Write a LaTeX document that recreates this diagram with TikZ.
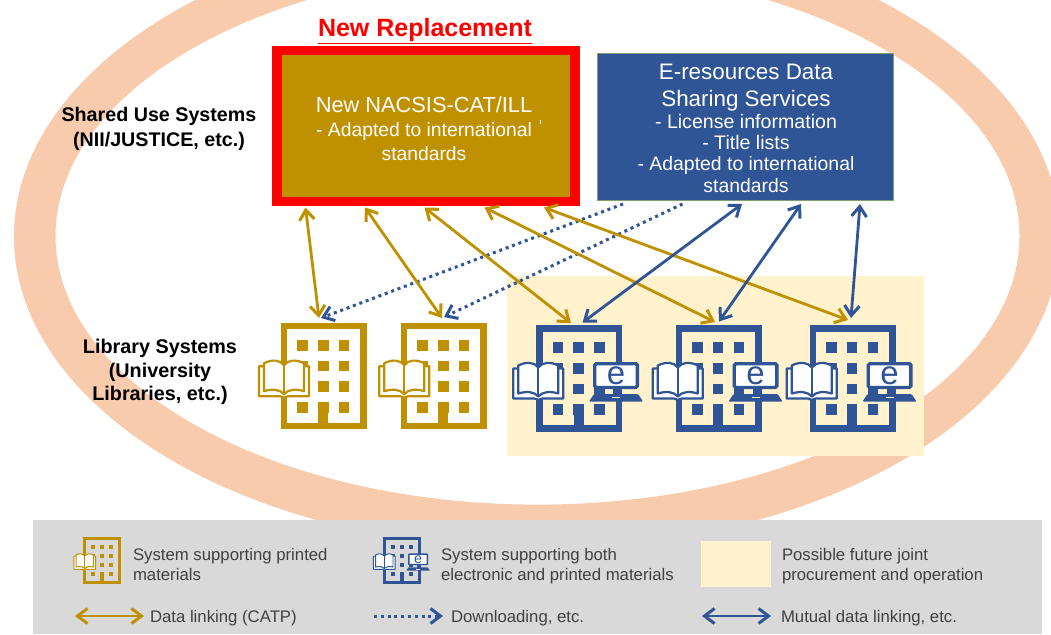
\documentclass[tikz,border=0pt]{standalone}
\usepackage{fontspec}
\setmainfont{Liberation Sans}
\usetikzlibrary{arrows.meta}
\definecolor{gold}{HTML}{BF9000}
\definecolor{navy}{HTML}{2F5597}
\definecolor{band}{HTML}{F8CBAD}
\definecolor{pale}{HTML}{FFF2CC}
\definecolor{legendgray}{HTML}{D9D9D9}
\definecolor{legendtext}{HTML}{404040}
\definecolor{boxedge}{HTML}{7F9F6F}
\newcommand{\fsz}[1]{\fontsize{#1}{#1}\selectfont}
% exact baseline stacks: the node's north edge is the first baseline
\newcommand{\stackbox}[2]{\vbox{\hsize=#1pt\offinterlineskip\parindent0pt #2}}
\newcommand{\ctrline}[3]{\setbox0=\hbox to\hsize{\hss\fsz{#2}#3\hss}\ht0=0pt\dp0=0pt\box0\kern#1pt}
\newcommand{\lftline}[3]{\setbox0=\hbox to\hsize{\fsz{#2}#3\hss}\ht0=0pt\dp0=0pt\box0\kern#1pt}
% building with book: x, y, scale, colour, book x offset
\newcommand{\bldgicon}[5]{%
  \begin{scope}[shift={(#1,#2)},scale=#3]
    \draw[draw=#4,line width=#3*6.5pt] (3.25,3.25) rectangle (82.75,103.25);
    \foreach \cx in {16.6,37.3,58}{\foreach \cy in {17.3,38,58.6,79.3}{
      \fill[#4] (\cx,\cy) rectangle +(10.6,10.6);}}
    \fill[#4] (37.6,79.3) rectangle (47.6,106);
    \begin{scope}[shift={(#5,37.5)}]
      \draw[draw=#4,line width=#3*2.2pt,fill=white,line join=round] (1,6) -- (1,36) -- (22,36) .. controls (24,36) and (25,37.5) .. (26,37.5) .. controls (27,37.5) and (28,36) .. (30,36) -- (51,36) -- (51,6) -- cycle;
      \draw[draw=#4,line width=#3*2.2pt,fill=white,line join=round] (6,3) .. controls (14,-1) and (22,-0.5) .. (26,5) .. controls (30,-0.5) and (38,-1) .. (46,3) -- (46,31) .. controls (38,28.5) and (30,29) .. (26,34) .. controls (22,29) and (14,28.5) .. (6,31) -- cycle;
      \draw[draw=#4,line width=#3*2.2pt] (26,5) -- (26,34);
    \end{scope}
  \end{scope}}
% monitor drawn over a blue building: name, x, y, scale
\newcommand{\monitoricon}[4]{%
  \begin{scope}[shift={(#2,#3)},scale=#4]
    \draw[draw=navy,line width=#4*3.4pt,fill=white,rounded corners=#4*1.5pt] (58.7,38.7) rectangle (101.3,62.5);
    \fill[navy] (77,63) rectangle (83,70);
    \fill[navy,rounded corners=#4*1pt] (58,69) -- (102,69) -- (107,76.5) -- (53,76.5) -- cycle;
    \fill[pale] (76,72) rectangle (84,73.4);
    \node[text=navy,inner sep=0pt,transform shape,font=\fsz{33}] (#1) at (80,50.5) {e};
  \end{scope}}
\tikzset{
  link/.style={line width=2.8pt,{Straight Barb[length=10pt,width=15pt,line width=3pt]}-{Straight Barb[length=10pt,width=15pt,line width=3pt]}},
  goldlink/.style={link,draw=gold},
  navylink/.style={link,draw=navy},
  dotlink/.style={draw=navy,line width=3pt,dash pattern=on 3pt off 3.8pt,-{Straight Barb[length=10pt,width=15pt,line width=3pt]}},
  stacktext/.style={anchor=north,inner sep=0pt,outer sep=0pt},
  whitetext/.style={stacktext,text=white},
  boldtext/.style={stacktext,text=black,font=\bfseries},
  legendlabel/.style={anchor=north west,inner sep=0pt,outer sep=0pt,text=legendtext},
}
\begin{document}
\begin{tikzpicture}[x=1pt,y=-1pt]
\useasboundingbox (0,0) rectangle (1051,634);
\begin{scope}
  \clip (0,0) rectangle (1051,634);
  \fill[white] (0,0) rectangle (1051,634);
  \fill[band,even odd rule] (537,236.6) ellipse [x radius=523pt,y radius=312.5pt] (537.5,236) ellipse [x radius=482pt,y radius=268.6pt];
\end{scope}
% Yellow joint area
\fill[pale] (507,276) rectangle (924,456);
% Top boxes
\node[draw=red,line width=9.5pt,fill=gold,minimum width=298pt,minimum height=150.5pt,inner sep=0pt,anchor=north west] (newbox) at (272,46) {};
\node[draw=boxedge,line width=1pt,fill=navy,minimum width=296pt,minimum height=147pt,inner sep=0pt,anchor=north west] (erbox) at (597,53) {};
\node[whitetext] (newtxt) at (424,112.3) {\stackbox{280}{\ctrline{24.4}{21.8}{New NACSIS-CAT/ILL}\ctrline{23.3}{19.3}{- Adapted to international}\ctrline{0}{19.3}{standards}}};
\draw[white,line width=0.8pt] (540.5,120) -- (540.5,124);
\node[whitetext] (ertxt) at (746,79.3) {\stackbox{280}{\ctrline{26.7}{22.4}{E-resources Data}\ctrline{22.3}{22.4}{Sharing Services}\ctrline{20.7}{19.6}{- License information}\ctrline{21.7}{19.6}{- Title lists}\ctrline{21.6}{19.4}{- Adapted to international}\ctrline{0}{19.4}{standards}}};
\node[stacktext,text=red,font=\bfseries] (newrep) at (425,36) {\stackbox{260}{\ctrline{0}{25}{\underline{New Replacement}}}};
\node[boldtext] (shared) at (159,121.7) {\stackbox{210}{\ctrline{24.3}{19.7}{Shared Use Systems}\ctrline{0}{19.7}{(NII/JUSTICE, etc.)}}};
\node[boldtext] (library) at (160,353.3) {\stackbox{180}{\ctrline{24}{19.8}{Library Systems}\ctrline{23.4}{19.8}{(University}\ctrline{0}{19.8}{Libraries, etc.)}}};
% Legend
\fill[legendgray] (33,520) rectangle (1042,634);
\fill[pale] (701,541) rectangle (771,587);
\bldgicon{83.3}{537.3}{0.435}{gold}{-22.7}
\bldgicon{383.3}{537.3}{0.435}{navy}{-23.7}
\monitoricon{legende}{383.3}{537.3}{0.435}
\node[legendlabel] (l1) at (133,560) {\stackbox{200}{\lftline{20}{16.75}{System supporting printed}\lftline{0}{16.75}{materials}}};
\node[legendlabel] (l2) at (441,560) {\stackbox{240}{\lftline{20}{16.75}{System supporting both}\lftline{0}{16.75}{electronic and printed materials}}};
\node[legendlabel] (l3) at (782,560) {\stackbox{210}{\lftline{20}{16.75}{Possible future joint}\lftline{0}{16.75}{procurement and operation}}};
\node[legendlabel] (l4) at (150,621.7) {\stackbox{160}{\lftline{0}{16.75}{Data linking (CATP)}}};
\node[legendlabel] (l5) at (451,621.7) {\stackbox{160}{\lftline{0}{16.75}{Downloading, etc.}}};
\node[legendlabel] (l6) at (781,621.7) {\stackbox{190}{\lftline{0}{16.75}{Mutual data linking, etc.}}};
\coordinate (la) at (75,616); \coordinate (lb) at (144,616);
\coordinate (lc) at (374,616); \coordinate (ld) at (443,616);
\coordinate (le) at (702,616); \coordinate (lf) at (771,616);
\draw[goldlink] (la) -- (lb);
\draw[dotlink] (lc) -- (ld);
\draw[navylink] (le) -- (lf);
% Buildings
\bldgicon{280.7}{322.7}{1}{gold}{-22.7}
\bldgicon{400.7}{322.7}{1}{gold}{-22.4}
\bldgicon{536}{325}{1}{navy}{-23.7}
\monitoricon{e1}{536}{325}{1}
\bldgicon{675.5}{325}{1}{navy}{-23.7}
\monitoricon{e2}{675.5}{325}{1}
\bldgicon{809.5}{325}{1}{navy}{-23.7}
\monitoricon{e3}{809.5}{325}{1}
% Connector ends
\coordinate (g1a) at (305.5,207.5); \coordinate (g1b) at (319,318);
\coordinate (g2a) at (365,207.5); \coordinate (g2b) at (442,318);
\coordinate (g3a) at (424.5,207.5); \coordinate (g3b) at (571,323);
\coordinate (g4a) at (484.5,207.5); \coordinate (g4b) at (715,322);
\coordinate (g5a) at (544,207.5); \coordinate (g5b) at (848,320);
\coordinate (n1a) at (742,204); \coordinate (n1b) at (582.5,322.5);
\coordinate (n2a) at (801,204); \coordinate (n2b) at (719,321.5);
\coordinate (n3a) at (860,204); \coordinate (n3b) at (851,318);
\coordinate (d1a) at (623,204); \coordinate (d1b) at (321,318);
\coordinate (d2a) at (682.5,204); \coordinate (d2b) at (444,317);
\draw[dotlink] (d1a) -- (d1b);
\draw[dotlink] (d2a) -- (d2b);
\draw[goldlink] (g1a) -- (g1b);
\draw[goldlink] (g2a) -- (g2b);
\draw[goldlink] (g3a) -- (g3b);
\draw[goldlink] (g4a) -- (g4b);
\draw[goldlink] (g5a) -- (g5b);
\draw[navylink] (n1a) -- (n1b);
\draw[navylink] (n2a) -- (n2b);
\draw[navylink] (n3a) -- (n3b);
\end{tikzpicture}
\end{document}
